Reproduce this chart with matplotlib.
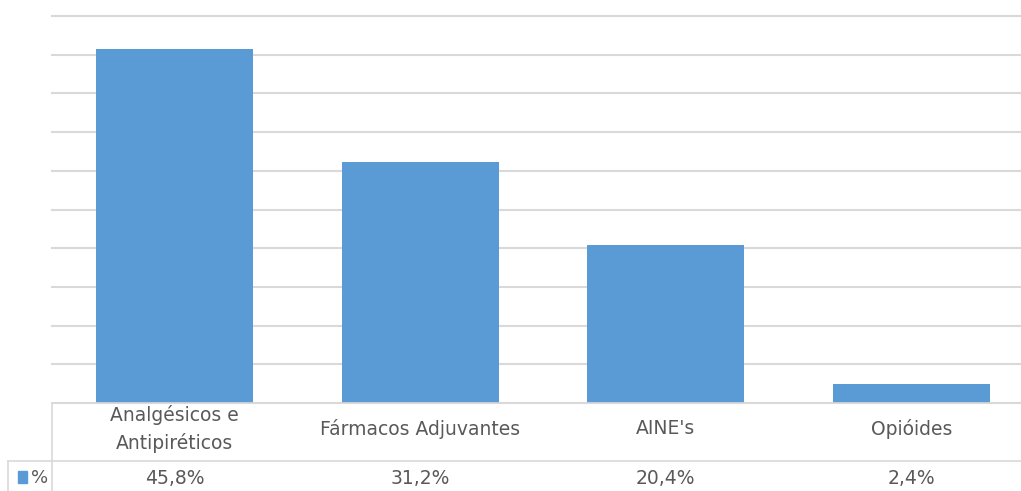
import matplotlib
matplotlib.use("Agg")
import matplotlib.pyplot as plt
from matplotlib.lines import Line2D
from matplotlib.patches import Rectangle

categories = ["Analgésicos e\nAntipiréticos", "Fármacos Adjuvantes", "AINE's", "Opióides"]
values = [45.8, 31.2, 20.4, 2.4]
value_labels = ["45,8%", "31,2%", "20,4%", "2,4%"]
series_name = "%"

W, H = 1021, 491
bar_color = "#5b9bd5"
grid_color = "#d9d9d9"
text_color = "#595959"
fsize = 13.5

fig = plt.figure(figsize=(W / 100, H / 100), dpi=100)

def fx(px):
    return px / W

def fy(py):
    return 1 - py / H

# plot area (runs a little past the right edge, like the cropped original)
left, right, top, bottom = 52, 52 + 4 * 245.5, 16, 403
ax = fig.add_axes([fx(left), fy(bottom), fx(right - left), fy(top) - fy(bottom)])
ax.bar(range(len(values)), values, width=0.64, color=bar_color, zorder=3)
ax.set_xlim(-0.5, len(values) - 0.5)
ax.set_ylim(0, 50)
ax.set_yticks(range(0, 51, 5))
ax.yaxis.grid(True, color=grid_color, linewidth=1.5, zorder=0)
for gl in ax.get_ygridlines():
    gl.set_clip_on(False)
ax.tick_params(left=False, bottom=False, labelleft=False, labelbottom=False)
for s in ax.spines.values():
    s.set_visible(False)

# data table below the chart
line_kw = dict(color=grid_color, linewidth=1.2, transform=fig.transFigure)
fig.add_artist(Line2D([fx(left), 1], [fy(bottom), fy(bottom)], **line_kw))
fig.add_artist(Line2D([fx(8), 1], [fy(461), fy(461)], **line_kw))
fig.add_artist(Line2D([fx(left), fx(left)], [fy(bottom), 0], **line_kw))
fig.add_artist(Line2D([fx(8), fx(8)], [fy(461), 0], **line_kw))

col_w = (right - left) / len(categories)
for i, (cat, lab) in enumerate(zip(categories, value_labels)):
    cx = left + col_w * (i + 0.5)
    fig.text(fx(cx), fy(429), cat, ha="center", va="center", fontsize=fsize,
             color=text_color, linespacing=1.45, family="DejaVu Sans")
    fig.text(fx(cx), fy(478), lab, ha="center", va="center", fontsize=fsize,
             color=text_color, family="DejaVu Sans")

fig.add_artist(Rectangle((fx(18), fy(483)), fx(9), fy(471) - fy(483),
                         color=bar_color, transform=fig.transFigure))
fig.text(fx(31), fy(478), series_name, ha="left", va="center", fontsize=fsize - 0.5,
         color=text_color, family="DejaVu Sans")

fig.savefig("out.png", dpi=100)
